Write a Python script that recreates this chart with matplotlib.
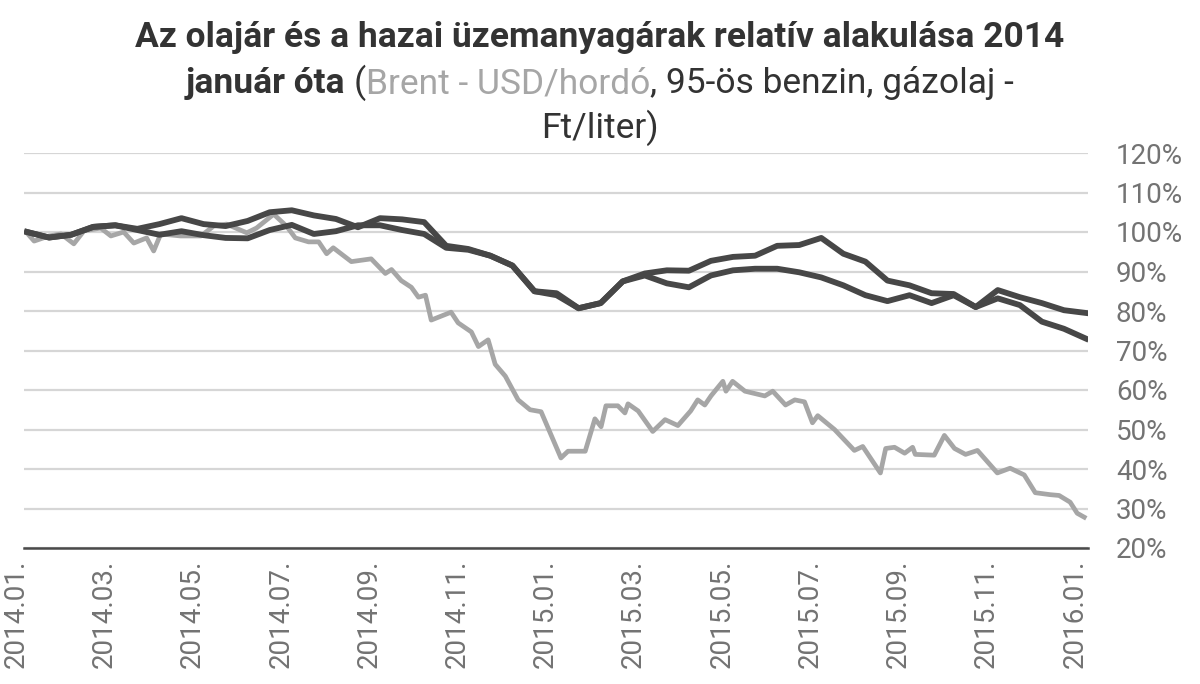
import numpy as np
import matplotlib
matplotlib.use("Agg")
import matplotlib.pyplot as plt

# x positions are months since 2014.01.
fuel_months = np.arange(0.25, 24.3, 0.5)

benzin = [100, 98.6, 99.3, 101.3, 101.7, 100.8, 102, 103.5, 102, 101.5,
          102.8, 105, 105.5, 104.2, 103.3, 101.2, 103.5, 103.2, 102.5, 96.5,
          95.7, 94, 91.5, 85, 84.5, 80.7, 82, 87.5, 89.5, 90.3,
          90.2, 92.7, 93.7, 94, 96.5, 96.7, 98.5, 94.5, 92.5, 87.7,
          86.5, 84.5, 84.3, 81, 85.3, 83.5, 82, 80.2, 79.5]

gazolaj = [100, 98.6, 99.3, 101.3, 101.7, 100.5, 99.3, 100.2, 99.2, 98.5,
           98.4, 100.5, 101.8, 99.5, 100.2, 101.7, 101.7, 100.5, 99.5, 96,
           95.5, 94, 91.5, 85, 84, 80.7, 82, 87.5, 89, 87,
           86, 89, 90.3, 90.7, 90.7, 89.8, 88.5, 86.5, 84, 82.5,
           84, 82, 84, 81, 83.2, 81.5, 77.3, 75.5, 73]

brent_months = [0.23, 0.41, 0.75, 1.02, 1.31, 1.54, 1.92, 2.15, 2.44, 2.67,
                2.96, 3.12, 3.28, 3.73, 4.19, 4.48, 4.77, 5.23, 5.45, 5.84,
                6.13, 6.33, 6.63, 6.86, 7.04, 7.19, 7.6, 8.05, 8.37, 8.51,
                8.73, 8.96, 9.12, 9.28, 9.41, 9.86, 10.02, 10.32, 10.48, 10.7,
                10.86, 11.09, 11.38, 11.65, 11.9, 12.35, 12.51, 12.9, 13.12, 13.26,
                13.37, 13.64, 13.8, 13.87, 14.1, 14.43, 14.71, 15.0, 15.29, 15.45,
                15.61, 15.75, 16.02, 16.09, 16.24, 16.52, 16.97, 17.15, 17.44, 17.65,
                17.87, 18.05, 18.17, 18.55, 19.0, 19.19, 19.59, 19.71, 19.91, 20.14,
                20.32, 20.38, 20.81, 21.04, 21.27, 21.52, 21.79, 22.24, 22.53, 22.85,
                23.1, 23.44, 23.64, 23.89, 24.05, 24.21]

brent = [100, 97.7, 99, 99.5, 97, 100.3, 101, 99, 100, 97.2,
         98.5, 95.2, 99.5, 99, 99, 101.5, 102, 99.8, 101, 104.5,
         101.5, 98.5, 97.5, 97.5, 94.5, 96, 92.5, 93.2, 89.5, 90.5,
         87.7, 86, 83.5, 84, 77.7, 79.7, 77, 74.7, 71, 72.7,
         66.5, 63.5, 57.5, 55, 54.5, 42.8, 44.5, 44.5, 52.7, 50.7,
         56, 56, 54.2, 56.5, 54.7, 49.5, 52.5, 51, 54.7, 57.5,
         56.2, 58.5, 62.2, 59.7, 62.2, 59.7, 58.5, 59.7, 56.2, 57.5,
         57, 51.7, 53.5, 50, 44.7, 45.7, 39, 45.2, 45.5, 44,
         45.5, 43.7, 43.5, 48.5, 45.2, 43.7, 44.7, 39, 40.2, 38.5,
         34, 33.5, 33.3, 31.6, 28.8, 27.8]

tick_months = list(range(0, 25, 2))
tick_labels = ["2014.01.", "2014.03.", "2014.05.", "2014.07.", "2014.09.",
               "2014.11.", "2015.01.", "2015.03.", "2015.05.", "2015.07.",
               "2015.09.", "2015.11.", "2016.01."]

y_ticks = list(range(20, 130, 10))

DARK = "#474747"
LIGHT = "#a6a6a6"
TEXT_GREY = "#737373"
TITLE_FONT = "Roboto"

fig = plt.figure(figsize=(12, 6.84), dpi=100)
ax = fig.add_axes([24 / 1200, 1 - 548 / 684, (1088 - 24) / 1200, (548 - 153) / 684])

ax.plot(brent_months, brent, color=LIGHT, linewidth=3.4, solid_joinstyle="round", zorder=2)
ax.plot(fuel_months, gazolaj, color=DARK, linewidth=4.2, solid_joinstyle="round", zorder=3)
ax.plot(fuel_months, benzin, color=DARK, linewidth=4.2, solid_joinstyle="round", zorder=3)

ax.set_xlim(0.181, 24.295)
ax.set_ylim(20, 120)
ax.set_yticks(y_ticks)
ax.set_yticklabels([f"{v}%" for v in y_ticks])
ax.yaxis.tick_right()
ax.tick_params(axis="y", length=0, pad=20, labelsize=20, labelcolor=TEXT_GREY)
for lab in ax.get_yticklabels():
    lab.set_family("Roboto")
ax.set_xticks([])
ax.grid(axis="y", color="#d6d6d6", linewidth=1.6)
ax.set_axisbelow(True)
for side in ["left", "right", "top"]:
    ax.spines[side].set_visible(False)
ax.spines["bottom"].set_color("#4a4a4a")
ax.spines["bottom"].set_linewidth(1.8)

# x labels drawn by hand, the first one sits left of the plotted range
for m, lab in zip(tick_months, tick_labels):
    ax.text(m, -0.03, lab, transform=ax.get_xaxis_transform(), rotation=90,
            ha="center", va="top", fontsize=20, color=TEXT_GREY,
            family="Roboto", clip_on=False)

# title, three lines with mixed weights and colours
renderer = fig.canvas.get_renderer()
W = 1200.0
H = 684.0


def line_of_text(parts, y_px, size):
    texts = []
    for s, color, weight, gap in parts:
        t = fig.text(0, 1 - y_px / H, s, color=color, fontweight=weight,
                     fontsize=size, family=TITLE_FONT, va="baseline", ha="left")
        texts.append((t, gap))
    widths = [t.get_window_extent(renderer).width for t, _ in texts]
    total = sum(widths) + sum(g for _, g in texts)
    x = (W - total) / 2
    for (t, gap), w in zip(texts, widths):
        x += gap
        t.set_x(x / W)
        x += w


probe1 = fig.text(0, 0, "x x", fontsize=25, family=TITLE_FONT)
probe2 = fig.text(0, 0, "xx", fontsize=25, family=TITLE_FONT)
space = probe1.get_window_extent(renderer).width - probe2.get_window_extent(renderer).width
probe1.remove()
probe2.remove()

line_of_text([("Az olajár és a hazai üzemanyagárak relatív alakulása 2014", "#333333", "bold", 0)], 47, 25.5)
line_of_text([("január óta", "#333333", "bold", 0),
              ("(", "#333333", "normal", space),
              ("Brent - USD/hordó", LIGHT, "normal", 0),
              (", 95-ös benzin, gázolaj -", "#333333", "normal", 0)], 93, 25.5)
line_of_text([("Ft/liter)", "#333333", "normal", 0)], 138, 25.5)

fig.savefig("out.png", dpi=100)
